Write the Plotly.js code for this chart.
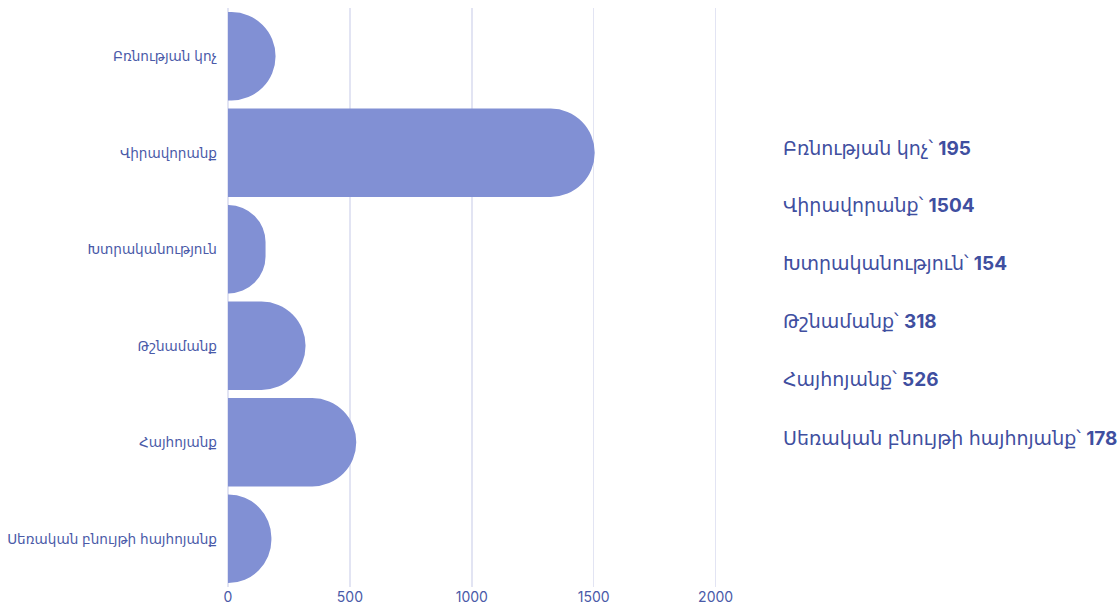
<!DOCTYPE html>
<html>
<head>
<meta charset="utf-8">
<script src="https://cdn.plot.ly/plotly-3.0.1.min.js"></script>
<style>html,body{margin:0;padding:0;background:#fff;}#chart{width:1119px;height:608px;}</style>
</head>
<body>
<div id="chart"></div>
<script>
const categories = ["Բռնության կոչ", "Վիրավորանք", "Խտրականություն", "Թշնամանք", "Հայհոյանք", "Սեռական բնույթի հայհոյանք"];
const values = [195, 1504, 154, 318, 526, 178];
const xTicks = [0, 500, 1000, 1500, 2000];

const barColor = "#8190d4";
const textColor = "#3f4fa0";
const gridColor = "#e2e4f3";
const fontFam = "Inter, 'DejaVu Sans', sans-serif";

const annYs = [0.758, 0.659, 0.558, 0.458, 0.358, 0.257];
const annotations = categories.map((c, i) => ({
  xref: "paper", yref: "paper", x: 1.081, y: annYs[i],
  xanchor: "left", yanchor: "middle", showarrow: false,
  text: c + "՝ <b>" + values[i] + "</b>",
  font: {family: fontFam, size: 19, color: textColor}
}));

Plotly.newPlot("chart", [{
  type: "bar", orientation: "h",
  y: categories, x: values,
  marker: {color: barColor, cornerradius: "50%"},
  hoverinfo: "x+y"
}], {
  width: 1119, height: 608,
  margin: {l: 228, r: 379, t: 8, b: 21},
  paper_bgcolor: "#fff", plot_bgcolor: "#fff",
  bargap: 0.085,
  showlegend: false,
  xaxis: {
    range: [0, 2100], tickvals: xTicks, ticktext: xTicks.map(String),
    showgrid: true, gridcolor: gridColor, gridwidth: 1.5,
    zeroline: true, zerolinecolor: gridColor, zerolinewidth: 1.5,
    tickfont: {family: fontFam, size: 14, color: "#4a5aa8"},
    fixedrange: true
  },
  yaxis: {
    autorange: "reversed", showgrid: false, zeroline: false,
    ticklabelstandoff: 10,
    tickfont: {family: fontFam, size: 13.6, color: "#4a5aa8"},
    fixedrange: true
  },
  annotations: annotations
}, {displayModeBar: false, staticPlot: true});
</script>
</body>
</html>
